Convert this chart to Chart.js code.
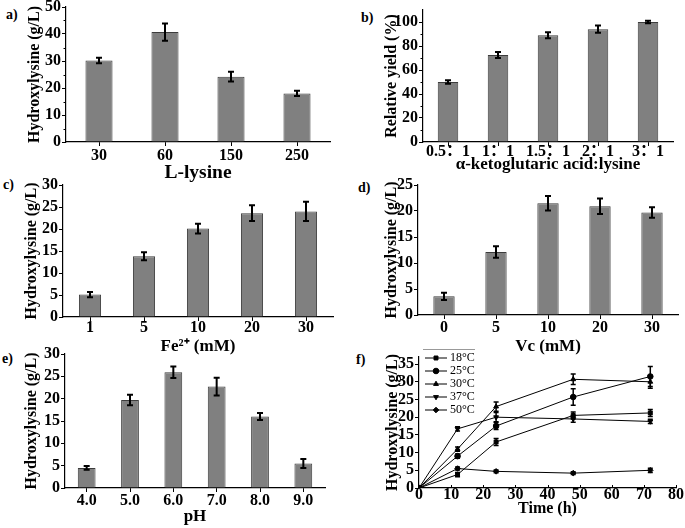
<!DOCTYPE html>
<html><head><meta charset="utf-8">
<script src="https://cdn.jsdelivr.net/npm/chart.js@4.4.1/dist/chart.umd.min.js"></script>
<style>
html,body{margin:0;padding:0;width:685px;height:528px;overflow:hidden;background:#fff;position:relative;}
.pc{position:absolute;}
.lab{position:absolute;font:bold 14px "Liberation Serif",serif;color:#000;line-height:14px;}
</style></head>
<body>
<div class="lab" style="left:6px;top:8px">a)</div>
<div class="lab" style="left:361px;top:11px">b)</div>
<div class="lab" style="left:3px;top:178px">c)</div>
<div class="lab" style="left:358px;top:181px">d)</div>
<div class="lab" style="left:2px;top:352px">e)</div>
<div class="lab" style="left:356px;top:353px">f)</div>
<script>
// ---- data ----
const lysineCats = ['30','60','150','250'];
const lysineVals = [30.2, 40.7, 24.2, 18.0];
const lysineErr  = [1.0, 3.2, 1.8, 1.0];
const lysineTicks = [0, 10, 20, 30, 40, 50];

const ratioCats = ['0.5：1','1：1','1.5：1','2：1','3：1'];
const ratioVals = [50, 72.5, 89, 94, 100];
const ratioErr  = [1.5, 2.5, 2.5, 3, 1];
const ratioTicks = [0, 20, 40, 60, 80, 100];

const feCats = ['1','5','10','20','30'];
const feVals = [5.1, 13.8, 20.1, 23.6, 24.0];
const feErr  = [0.6, 0.9, 1.1, 1.8, 2.2];
const feTicks = [0, 5, 10, 15, 20, 25, 30];

const vcCats = ['0','5','10','20','30'];
const vcVals = [3.6, 12.1, 21.5, 20.9, 19.7];
const vcErr  = [0.7, 1.1, 1.4, 1.5, 1.0];
const vcTicks = [0, 5, 10, 15, 20, 25];

const phCats = ['4.0','5.0','6.0','7.0','8.0','9.0'];
const phVals = [4.5, 19.7, 25.9, 22.7, 16.0, 5.5];
const phErr  = [0.4, 1.2, 1.3, 2.0, 0.8, 1.0];
const phTicks = [0, 5, 10, 15, 20, 25, 30];

const timeH = [0, 12, 24, 48, 72];
const timeTicks = [0, 10, 20, 30, 40, 50, 60, 70, 80];
const tempYTicks = [0, 5, 10, 15, 20, 25, 30, 35];
const tempLabels = ['18°C','25°C','30°C','37°C','50°C'];
const t18 = [0, 3.8, 13.0, 20.5, 21.2];
const t25 = [0, 9.0, 17.5, 25.7, 31.5];
const t30 = [0, 11.0, 23.0, 30.7, 30.0];
const t37 = [0, 16.7, 20.0, 19.5, 18.8];
const t50 = [0, 5.5, 4.7, 4.2, 5.0];
const e18 = [0, 0.6, 1.0, 1.0, 1.0];
const e25 = [0, 0.6, 1.0, 2.3, 2.8];
const e30 = [0, 0.6, 1.3, 1.5, 1.8];
const e37 = [0, 0.6, 1.3, 0.9, 0.6];
const e50 = [0, 0.4, 0.4, 0.4, 0.6];

// ---- styling ----
const SERIF = '"Liberation Serif","Times New Roman",serif';
Chart.defaults.font.family = SERIF;
Chart.defaults.font.weight = 'bold';
Chart.defaults.font.size = 16;
Chart.defaults.color = '#000';

const errorBars = {
  id: 'errorBars',
  afterDatasetsDraw(chart, args, opts) {
    const ctx = chart.ctx, ys = chart.scales.y;
    chart.data.datasets.forEach((ds, i) => {
      if (!ds.errors) return;
      const meta = chart.getDatasetMeta(i);
      meta.data.forEach((el, j) => {
        const v = ds.data[j], e = ds.errors[j];
        const val = (typeof v === 'object') ? v.y : v;
        if (!e) return;
        const x = el.x, y1 = ys.getPixelForValue(val - e), y2 = ys.getPixelForValue(val + e);
        const cw = opts.cap || 3;
        ctx.save();
        ctx.strokeStyle = '#000';
        ctx.lineWidth = opts.width || 2;
        ctx.beginPath();
        ctx.moveTo(x, y1); ctx.lineTo(x, y2);
        ctx.moveTo(x - cw, y1); ctx.lineTo(x + cw, y1);
        ctx.moveTo(x - cw, y2); ctx.lineTo(x + cw, y2);
        ctx.stroke();
        ctx.restore();
      });
    });
  }
};
const minorTicks = {
  id: 'minorTicks',
  afterDraw(chart, args, opts) {
    if (!opts || !opts.step) return;
    const ys = chart.scales.y, ctx = chart.ctx;
    ctx.save();
    ctx.strokeStyle = '#000'; ctx.lineWidth = 1;
    for (let v = opts.step; v < ys.max; v += opts.step) {
      if (Math.abs(v / opts.major - Math.round(v / opts.major)) < 1e-6) continue;
      const y = Math.round(ys.getPixelForValue(v)) + 0.5;
      ctx.beginPath(); ctx.moveTo(ys.right - 2.5, y); ctx.lineTo(ys.right, y); ctx.stroke();
    }
    ctx.restore();
  }
};
const innerXTicks = {
  id: 'innerXTicks',
  afterDraw(chart, args, opts) {
    if (!opts || !opts.show) return;
    const xs = chart.scales.x, ctx = chart.ctx, b = chart.chartArea.bottom;
    ctx.save();
    ctx.strokeStyle = '#000'; ctx.lineWidth = 1;
    xs.ticks.forEach(t => {
      const x = Math.round(xs.getPixelForValue(t.value)) + 0.5;
      ctx.beginPath(); ctx.moveTo(x, b); ctx.lineTo(x, b - 3); ctx.stroke();
    });
    ctx.restore();
  }
};
const lineLegend = {
  id: 'lineLegend',
  afterDraw(chart, args, opts) {
    if (!opts || !opts.show) return;
    const ctx = chart.ctx, ca = chart.chartArea;
    const x0 = ca.left + opts.dx, y0 = ca.top + opts.dy;
    ctx.save();
    ctx.strokeStyle = '#999'; ctx.lineWidth = 1;
    ctx.beginPath(); ctx.moveTo(x0 - 2, y0 - 8.5); ctx.lineTo(x0 + 50, y0 - 8.5); ctx.stroke();
    ctx.font = 'normal 12px ' + SERIF;
    ctx.textBaseline = 'middle';
    chart.data.datasets.forEach((ds, i) => {
      const y = y0 + i * opts.gap;
      ctx.strokeStyle = '#000'; ctx.lineWidth = 1;
      ctx.beginPath(); ctx.moveTo(x0, y); ctx.lineTo(x0 + 22, y); ctx.stroke();
      Chart.helpers.drawPoint(ctx, {pointStyle: ds.pointStyle, rotation: ds.pointRotation || 0, radius: 2.8, borderWidth: 1}, x0 + 11, y);
      ctx.fillStyle = '#000';
      ctx.fillText(ds.label, x0 + 25, y);
    });
    ctx.restore();
  }
};
Chart.register(errorBars, minorTicks, innerXTicks, lineLegend);

function makePanel(g, config) {
  const ySize = 16;
  const cl = Math.round(g.ytx - 0.6 * ySize);
  const yW = g.L - cl;
  const cb = Math.round(g.xty + 0.6 * g.xSize);
  const xH = cb - g.B;
  const padTop = 14, padRight = 14;
  const ct = g.T - padTop, cr = g.R + padRight;
  const div = document.createElement('div');
  div.className = 'pc';
  div.style.left = cl + 'px'; div.style.top = ct + 'px';
  div.style.width = (cr - cl) + 'px'; div.style.height = (cb - ct) + 'px';
  const cv = document.createElement('canvas');
  div.appendChild(cv);
  document.body.appendChild(div);
  const o = config.options;
  o.responsive = true; o.maintainAspectRatio = false; o.animation = false;
  o.layout = {padding: {top: padTop, right: padRight, left: 0, bottom: 0}};
  o.scales.x.afterFit = s => { s.height = xH; };
  o.scales.y.afterFit = s => { s.width = yW; };
  o.plugins = Object.assign({legend: {display: false}, tooltip: {enabled: false}}, o.plugins || {});
  return new Chart(cv, config);
}

function barConfig(cats, vals, errs, yTicks, yTitle, xTitle, xSize, yMax, xPad, minor, xFamily) {
  const major = yTicks[1] - yTicks[0];
  return {
    type: 'bar',
    data: {labels: cats, datasets: [{data: vals, errors: errs, backgroundColor: '#808080', borderColor: '#3c3c3c', borderWidth: 1, categoryPercentage: 1, barPercentage: 0.41}]},
    options: {
      scales: {
        x: {
          grid: {offset: false, drawOnChartArea: false, tickLength: 4, color: '#000', tickWidth: 1},
          border: {color: '#000', width: 1.2},
          ticks: {autoSkip: false, maxRotation: 0, padding: xPad, font: {size: 16, weight: 'bold', family: xFamily || SERIF}},
          title: {display: true, text: xTitle, padding: 0, font: {size: xSize, weight: 'bold'}}
        },
        y: {
          min: 0, max: yMax,
          afterBuildTicks: s => { s.ticks = yTicks.map(v => ({value: v})); },
          grid: {drawOnChartArea: false, tickLength: 4, color: '#000'},
          border: {color: '#000', width: 1.2},
          ticks: {autoSkip: false, padding: 1, font: {size: 16, weight: 'bold'}},
          title: {display: true, text: yTitle, padding: 0, font: {size: 16, weight: 'bold'}}
        }
      },
      plugins: {errorBars: {cap: 3, width: 2}, minorTicks: minor ? {step: minor, major: major} : {}}
    }
  };
}

makePanel({L: 66, T: 7, R: 330, B: 142, ytx: 35, xty: 173, xSize: 19.5},
  barConfig(lysineCats, lysineVals, lysineErr, lysineTicks, 'Hydroxylysine (g/L)', 'L-lysine', 19.5, 50, 0, 5));
makePanel({L: 423, T: 10, R: 673, B: 142, ytx: 392, xty: 165, xSize: 17},
  barConfig(ratioCats, ratioVals, ratioErr, ratioTicks, 'Relative yield (%)', 'α-ketoglutaric acid:lysine', 17, 110, -4, 10,
    '"Liberation Serif","Noto Sans CJK SC",serif'));
makePanel({L: 63, T: 185, R: 333, B: 317, ytx: 32, xty: 347, xSize: 17},
  barConfig(feCats, feVals, feErr, feTicks, 'Hydroxylysine (g/L)', 'Fe²⁺ (mM)', 17, 30, -3, 0));
makePanel({L: 418, T: 185, R: 678, B: 315, ytx: 392, xty: 347, xSize: 17},
  barConfig(vcCats, vcVals, vcErr, vcTicks, 'Hydroxylysine (g/L)', 'Vc (mM)', 17, 25, -1, 0));
makePanel({L: 65, T: 354, R: 325, B: 488, ytx: 32, xty: 517, xSize: 17},
  barConfig(phCats, phVals, phErr, phTicks, 'Hydroxylysine (g/L)', 'pH', 17, 30, -1, 0));

// ---- panel f ----
const series = [t18, t25, t30, t37, t50];
const errs = [e18, e25, e30, e37, e50];
const styles = [['rect', 0], ['circle', 0], ['triangle', 0], ['triangle', 180], ['rectRot', 0]];
const fDatasets = series.map((s, i) => ({
  label: tempLabels[i],
  data: timeH.map((t, j) => ({x: t, y: s[j]})),
  errors: errs[i],
  borderColor: '#000', backgroundColor: '#000', borderWidth: 1,
  pointStyle: styles[i][0], pointRotation: styles[i][1], pointRadius: 2.8, pointBorderWidth: 1,
  pointBackgroundColor: '#000', pointBorderColor: '#000', tension: 0
}));
makePanel({L: 419, T: 357, R: 676, B: 488, ytx: 393, xty: 508, xSize: 16}, {
  type: 'line',
  data: {datasets: fDatasets},
  options: {
    scales: {
      x: {
        type: 'linear', min: 0, max: 80,
        afterBuildTicks: s => { s.ticks = timeTicks.map(v => ({value: v})); },
        grid: {drawOnChartArea: false, drawTicks: false},
        border: {color: '#000', width: 1.2},
        ticks: {padding: -3, maxRotation: 0, autoSkip: false, font: {size: 16, weight: 'bold'}},
        title: {display: true, text: 'Time (h)', padding: 0, font: {size: 16, weight: 'bold'}}
      },
      y: {
        min: 0, max: 37,
        afterBuildTicks: s => { s.ticks = tempYTicks.map(v => ({value: v})); },
        grid: {drawOnChartArea: false, tickLength: 4, color: '#000'},
        border: {color: '#000', width: 1.2},
        ticks: {autoSkip: false, padding: 1, font: {size: 16, weight: 'bold'}},
        title: {display: true, text: 'Hydroxylysine (g/L)', padding: 0, font: {size: 16, weight: 'bold'}}
      }
    },
    plugins: {errorBars: {cap: 2.5, width: 1.5}, innerXTicks: {show: true}, lineLegend: {show: true, dx: 6, dy: 1, gap: 13}}
  }
});
</script>
</body></html>
